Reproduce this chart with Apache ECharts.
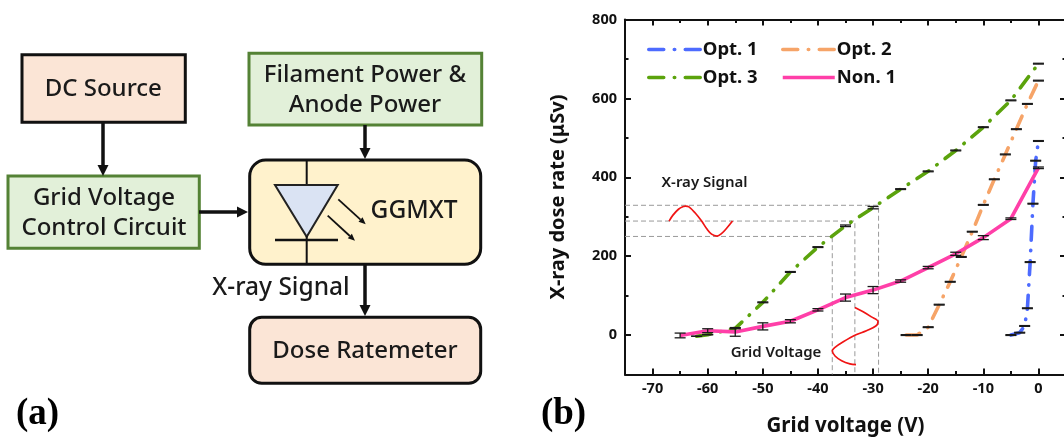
<!DOCTYPE html>
<html><head><meta charset="utf-8">
<style>html,body{margin:0;padding:0;background:#fff}#c{width:1064px;height:440px}</style>
<script src="https://cdn.jsdelivr.net/npm/echarts@6/dist/echarts.min.js"></script>
</head><body><div id="c"></div>
<script>
// ---- chart data ----
const opt1X   = [-5, -3.4, -2.5, -2, -1.5, -1, -0.5, 0];
const opt1Y   = [0, 6, 23, 68, 185, 333, 442, 492];
const opt1Err = [1, 1, 1, 1, 1, 1, 1, 1];
const opt2X   = [-24, -22, -20, -18, -16, -14, -12, -10, -8, -6, -4, -2, 0];
const opt2Y   = [0, 0, 20, 77, 135, 198, 262, 330, 395, 458, 522, 586, 645];
const opt2Err = [1, 1, 1, 1, 1, 1, 1, 1, 1, 1, 1, 1, 1];
const opt3X   = [-62, -60, -55, -50, -45, -40, -35, -30, -25, -20, -15, -10, -5, 0];
const opt3Y   = [-3, 1, 17, 83, 160, 223, 277, 323, 370, 415, 468, 527, 595, 688];
const opt3Err = [0, 0, 1, 1, 1, 1, 2, 3, 1, 1, 1, 1, 1, 1];
const non1X   = [-65, -60, -55, -50, -45, -40, -35, -30, -25, -20, -15, -10, -5, 0];
const non1Y   = [-1, 11, 8, 22, 35, 64, 95, 114, 137, 171, 206, 247, 295, 424];
const non1Err = [6, 5, 11, 9, 4, 3, 9, 9, 3, 3, 4, 5, 2, 2];
// annotation guides and sketched waves (x, y)
const guideA = [[-75, 250], [-37.4, 250], [-37.4, -100]];
const guideB = [[-75, 289], [-33.3, 289], [-33.3, -100]];
const guideC = [[-75, 329], [-29, 329], [-29, -100]];
const waveSignal = [[-67, 289], [-66.3, 304], [-65.3, 319], [-64.4, 326], [-64, 327], [-63.4, 325], [-62.3, 310], [-61.1, 289], [-60.2, 270], [-59.3, 256], [-58.3, 251], [-57.5, 257], [-56.6, 270], [-55.5, 289]];
const waveGrid = [[-33.3, 70], [-31.8, 59], [-30.3, 46], [-29.1, 34], [-29.5, 23], [-31.2, 11], [-33.2, 0], [-35.4, -17], [-36.9, -31], [-37.4, -40], [-36.9, -53], [-35.7, -65], [-34.2, -73], [-33.1, -75]];
// ticks
const xMajor = [-70, -60, -50, -40, -30, -20, -10, 0];
const xMinor = [-75, -65, -55, -45, -35, -25, -15, -5, 5];
const yMajor = [0, 200, 400, 600, 800];
const yMinor = [-100, 100, 300, 500, 700];

const FONT = '"Noto Sans", "Open Sans", sans-serif';
const INK = '#111';
const pairs = (xs, ys) => xs.map((x, i) => [x, ys[i]]);
const DASH = [14, 10, 0.5, 10];
const LEGEND_DASH = [15, 10.5, 0.5, 10.5];

function lineSeries(name, xs, ys, color, z, solid) {
  return { name, type: 'line', data: pairs(xs, ys), symbol: 'none', z, silent: true,
    lineStyle: { color, width: 3.6, cap: solid ? 'butt' : 'round', type: solid ? 'solid' : DASH },
    itemStyle: { color } };
}
function errSeries(xs, ys, errs, z) {
  return { type: 'custom', z, silent: true, data: xs.map((x, i) => [x, ys[i], errs[i]]),
    encode: { x: 0, y: 1 },
    renderItem(params, api) {
      const x = api.value(0), y = api.value(1), e = api.value(2);
      const hi = api.coord([x, y + e]), lo = api.coord([x, y - e]);
      const s = { stroke: '#1a1a1a', lineWidth: 1.3 };
      const w = 5.5;
      return { type: 'group', children: [
        { type: 'line', shape: { x1: hi[0], y1: hi[1], x2: lo[0], y2: lo[1] }, style: s },
        { type: 'line', shape: { x1: hi[0] - w, y1: hi[1], x2: hi[0] + w, y2: hi[1] }, style: s },
        { type: 'line', shape: { x1: lo[0] - w, y1: lo[1], x2: lo[0] + w, y2: lo[1] }, style: s }
      ] };
    } };
}
function guideSeries(d) {
  return { type: 'line', data: d, symbol: 'none', z: 1, silent: true,
    lineStyle: { color: '#9a9a9a', width: 1, type: [5, 3] } };
}
function waveSeries(d) {
  return { type: 'line', data: d, symbol: 'none', smooth: 0.35, z: 2, silent: true,
    lineStyle: { color: '#f01414', width: 1.7 } };
}

const lab = { fontFamily: FONT, fontWeight: 'bold', fontSize: 14.5, color: INK };
function xAx(position, vals, len, withLabels, withLine, extra) {
  return Object.assign({ type: 'value', min: -75, max: 5, position, splitLine: { show: false },
    axisLine: { show: withLine, onZero: false, lineStyle: { color: INK, width: 2 } },
    axisTick: { show: true, inside: true, length: len, customValues: vals, lineStyle: { color: INK, width: 2 } },
    axisLabel: withLabels ? Object.assign({ margin: 7, customValues: vals }, lab) : { show: false } }, extra || {});
}
function yAx(position, vals, len, withLabels, withLine, extra) {
  return Object.assign({ type: 'value', min: -100, max: 800, position, splitLine: { show: false },
    axisLine: { show: withLine, onZero: false, lineStyle: { color: INK, width: 2 } },
    axisTick: { show: true, inside: true, length: len, customValues: vals, lineStyle: { color: INK, width: 2 } },
    axisLabel: withLabels ? Object.assign({ margin: 8, customValues: vals }, lab) : { show: false } }, extra || {});
}

// ---- block diagram (panel a) ----
const green = '#548235', greenFill = '#E2F0D9', peach = '#FBE5D6', cream = '#FFF2CC';
function box(x, y, w, h, fill, stroke, r) {
  return { type: 'rect', shape: { x, y, width: w, height: h, r: r || 0 }, style: { fill, stroke, lineWidth: 3 } };
}
function seg(x1, y1, x2, y2, w, c) {
  return { type: 'line', shape: { x1, y1, x2, y2 }, style: { stroke: c || '#111', lineWidth: w } };
}
function arrow(x1, y1, x2, y2, w, hl, hw) {
  const d = Math.hypot(x2 - x1, y2 - y1), ux = (x2 - x1) / d, uy = (y2 - y1) / d;
  const bx = x2 - ux * hl, by = y2 - uy * hl;
  return [seg(x1, y1, bx, by, w),
    { type: 'polygon', shape: { points: [[x2, y2], [bx - uy * hw, by + ux * hw], [bx + uy * hw, by - ux * hw]] }, style: { fill: '#111' } }];
}
function txt(t, cx, cy, size, opts) {
  return { type: 'text', x: cx, y: cy, style: Object.assign({ text: t, fontFamily: FONT, fontSize: size, fontWeight: 500, fill: '#1a1a1a',
    align: 'center', verticalAlign: 'middle' }, opts || {}) };
}
const diagram = [
  box(22, 54.7, 163.3, 67.6, peach, '#111'),
  box(8, 176, 191.3, 72.3, greenFill, green),
  box(249, 53.3, 232.7, 71.7, greenFill, green),
  box(249.7, 160, 231, 104.3, cream, '#111', 16),
  box(249.7, 317.3, 231, 66, peach, '#111', 12),
  ...arrow(103, 122, 103, 176, 3.5, 11, 5.5),
  ...arrow(365, 125, 365, 159, 3.5, 11, 5.5),
  ...arrow(199, 212, 248, 212, 3.5, 11, 5.5),
  ...arrow(365, 264, 365, 316, 3.5, 11, 5.5),
  seg(306.7, 161, 306.7, 186, 2),
  { type: 'polygon', shape: { points: [[275, 185], [337.7, 185], [306.7, 236.7]] }, style: { fill: '#DAE3F3', stroke: '#222', lineWidth: 2 } },
  seg(275, 240, 338, 240, 2.5),
  seg(306.7, 236, 306.7, 263, 2),
  ...arrow(338.3, 199.3, 365.7, 224.3, 1.8, 7, 3),
  ...arrow(327.7, 215.7, 355, 240.7, 1.8, 7, 3),
  txt('DC Source', 103.3, 89, 24),
  txt('Filament Power &', 365, 75, 24),
  txt('Anode Power', 365, 105, 24),
  txt('Grid Voltage', 104, 198, 24),
  txt('Control Circuit', 104, 228, 24),
  txt('GGMXT', 414, 211, 24.5),
  txt('X-ray Signal', 281, 288, 24.5),
  txt('Dose Ratemeter', 365, 351, 24),
  txt('(a)', 37.5, 414, 37, { fontFamily: '"Liberation Serif", serif', fontWeight: 'bold', fill: '#000' }),
  txt('(b)', 563.5, 414, 37, { fontFamily: '"Liberation Serif", serif', fontWeight: 'bold', fill: '#000' }),
  txt('X-ray Signal', 704.5, 183, 15, { fontWeight: 600 }),
  txt('Grid Voltage', 776, 353, 15, { fontWeight: 600 })
];

const legText = { fontFamily: FONT, fontWeight: 'bold', fontSize: 18.5, color: INK, padding: [0, 0, 0, -3] };
const legDashed = n => ({ name: n, lineStyle: { width: 3.5, type: LEGEND_DASH, cap: 'round' } });
const legSolid = n => ({ name: n, lineStyle: { width: 3.5, type: 'solid' } });

const option = {
  animation: false,
  backgroundColor: '#fff',
  grid: { left: 625, top: 19.5, width: 441, height: 355, outerBoundsMode: 'none', containLabel: false },
  xAxis: [
    xAx('bottom', xMajor, 6, true, true, {
      name: 'Grid voltage (V)', nameLocation: 'middle', nameGap: 41,
      nameTextStyle: { fontFamily: FONT, fontWeight: 'bold', fontSize: 20.5, color: INK } }),
    xAx('top', xMajor, 6, false, true),
    xAx('bottom', xMinor, 3.5, false, false),
    xAx('top', xMinor, 3.5, false, false)
  ],
  yAxis: [
    yAx('left', yMajor, 6, true, true, {
      name: 'X-ray dose rate (μSv)', nameLocation: 'middle', nameGap: 57, nameRotate: 90,
      nameTextStyle: { fontFamily: FONT, fontWeight: 'bold', fontSize: 20, color: INK } }),
    yAx('right', yMajor, 6, false, true),
    yAx('left', yMinor, 3.5, false, false),
    yAx('right', yMinor, 3.5, false, false)
  ],
  legend: [
    { left: 647, top: 40, orient: 'vertical', itemWidth: 52, itemHeight: 14, itemGap: 9, itemStyle: { opacity: 0 },
      data: [legDashed('Opt. 1'), legDashed('Opt. 3')], textStyle: legText, padding: 0 },
    { left: 781, top: 40, orient: 'vertical', itemWidth: 52, itemHeight: 14, itemGap: 9, itemStyle: { opacity: 0 },
      data: [legDashed('Opt. 2'), legSolid('Non. 1')], textStyle: legText, padding: 0 }
  ],
  graphic: { elements: diagram },
  series: [
    guideSeries(guideA), guideSeries(guideB), guideSeries(guideC),
    waveSeries(waveSignal), waveSeries(waveGrid),
    lineSeries('Opt. 1', opt1X, opt1Y, '#4D6BFF', 3),
    lineSeries('Opt. 2', opt2X, opt2Y, '#F6A468', 3),
    lineSeries('Opt. 3', opt3X, opt3Y, '#5BA30C', 3),
    lineSeries('Non. 1', non1X, non1Y, '#FF3FA8', 4, true),
    errSeries(opt1X, opt1Y, opt1Err, 5),
    errSeries(opt2X, opt2Y, opt2Err, 5),
    errSeries(opt3X, opt3Y, opt3Err, 5),
    errSeries(non1X, non1Y, non1Err, 5)
  ]
};
echarts.init(document.getElementById('c')).setOption(option);
</script></body></html>
